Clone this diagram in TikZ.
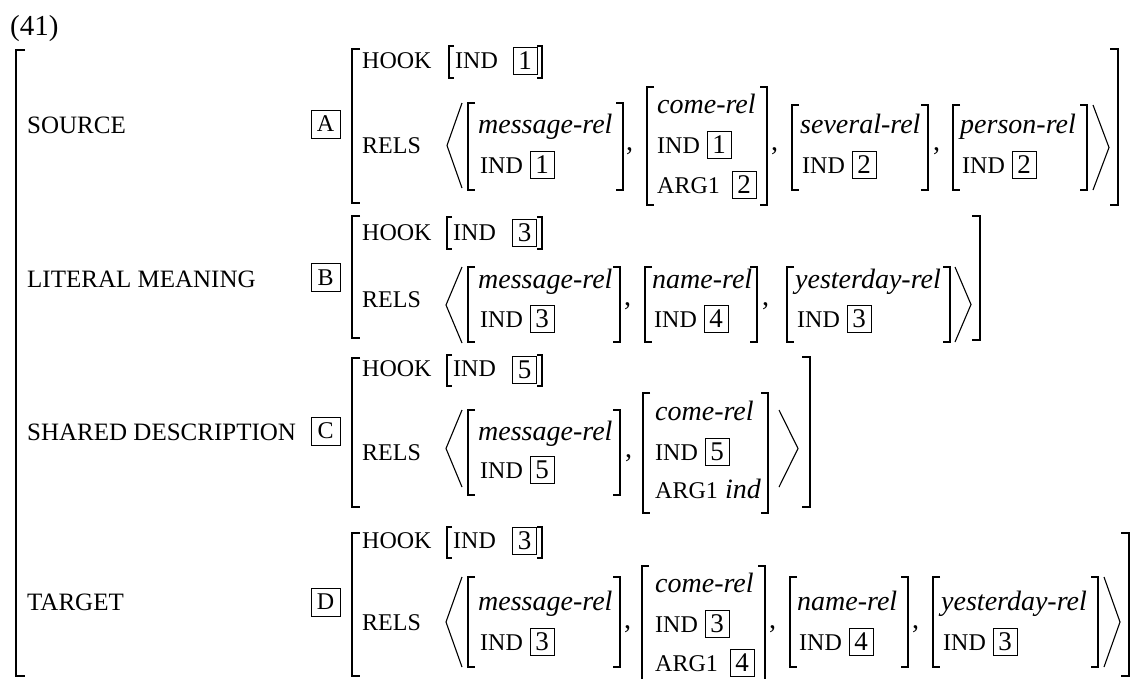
\documentclass[tikz,border=0pt]{standalone}
\usepackage{fontspec}
\setmainfont{Liberation Serif}
\tikzset{
  brk/.style={line width=1.3pt, line cap=butt, line join=miter},
  ang/.style={line width=1.1pt, line join=miter},
  txt/.style={inner sep=0pt, anchor=base west},
  lab/.style={txt, font=\fontsize{25}{28}\selectfont},
  sc/.style={txt, font=\fontsize{24}{28}\selectfont},
  it/.style={txt, font=\fontsize{28}{32}\selectfont\itshape},
  rmt/.style={txt, font=\fontsize{28}{32}\selectfont},
  tagd/.style={draw, line width=0.9pt, inner sep=0pt, minimum width=24pt, minimum height=27pt, font=\fontsize{27}{30}\selectfont},
  tagl/.style={draw, line width=0.9pt, inner sep=0pt, minimum width=29pt, minimum height=28pt, font=\fontsize{24}{28}\selectfont},
}
% left bracket: [tick]{x}{ytop}{ybot}
\newcommand\LBr[4][8]{\draw[brk] (#2+#1,#3) -- (#2,#3) -- (#2,#4) -- (#2+#1,#4);}
\newcommand\RBr[4][8]{\draw[brk] (#2-#1,#3) -- (#2,#3) -- (#2,#4) -- (#2-#1,#4);}
% angle: {apex x}{end x}{ytop}{ybot}
\newcommand\Ang[4]{\draw[ang] (#2,#3) -- (#1,{(#3+#4)/2}) -- (#2,#4);}
\newcommand\IndBox[4]{\node[sc] (#1i) at (#2,#3) {IND}; \node[tagd] (#1b) at (#2+62,#3-8.5) {#4};}
\newcommand\ArgBox[4]{\node[sc] (#1g) at (#2,#3) {ARG1}; \node[tagd] (#1gb) at (#2+87,#3-8) {#4};}
\begin{document}
\begin{tikzpicture}[x=1pt,y=-1pt]
\useasboundingbox (0,0) rectangle (1135,678);
\node[rmt, font=\fontsize{29}{32}\selectfont] (ex) at (10,35) {(41)};
% outer bracket
\draw[brk] (25,50) -- (16,50) -- (16,676) -- (25,676);

% ---------- Row A : SOURCE
\node[lab] (srcL) at (27,133) {SOURCE};
\node[tagl] (tA) at (325.5,124) {A};
\LBr{352}{49}{203} \RBr{1118}{49}{205}
\node[sc] (hookA) at (362,68) {HOOK};
\LBr[5]{449}{46}{78} \node[sc] (hiA) at (455,68) {IND}; \node[tagd] (hbA) at (525,61) {1}; \RBr[5]{542}{46}{78}
\node[sc] (relsA) at (362,153) {RELS};
\Ang{447}{462}{103}{188}
\LBr[7]{468}{103}{190} \node[it] (a1) at (478,133) {message-rel}; \IndBox{a1}{480}{173}{1} \RBr[7]{623}{103}{190}
\node[rmt] (ca1) at (626,150) {,};
\LBr[7]{647}{87}{205} \node[it] (a2) at (657,113) {come-rel}; \IndBox{a2}{657}{153}{1} \ArgBox{a2}{657}{193}{2} \RBr[7]{767}{87}{205}
\node[rmt] (ca2) at (771,150) {,};
\LBr[7]{792}{105}{190} \node[it] (a3) at (800,133) {several-rel}; \IndBox{a3}{802}{173}{2} \RBr[7]{928}{105}{190}
\node[rmt] (ca3) at (933,150) {,};
\LBr[7]{953}{105}{190} \node[it] (a4) at (960,133) {person-rel}; \IndBox{a4}{962}{173}{2} \RBr[7]{1087}{105}{190}
\Ang{1109}{1093}{105}{190}

% ---------- Row B : LITERAL MEANING
\node[lab] (litL) at (27,287) {LITERAL MEANING};
\node[tagl] (tB) at (325.5,277.5) {B};
\LBr{352}{216}{338} \RBr{980}{216}{340}
\node[sc] (hookB) at (362,240) {HOOK};
\LBr[5]{447}{217}{249} \node[sc] (hiB) at (453,240) {IND}; \node[tagd] (hbB) at (524.5,232.5) {3}; \RBr[5]{542}{217}{249}
\node[sc] (relsB) at (362,307) {RELS};
\Ang{446}{462}{267}{343}
\LBr[7]{468}{267}{342} \node[it] (b1) at (478,288) {message-rel}; \IndBox{b1}{480}{327}{3} \RBr[7]{620}{267}{342}
\node[rmt] (cb1) at (624,305) {,};
\LBr[7]{645}{267}{342} \node[it] (b2) at (652,288) {name-rel}; \IndBox{b2}{654}{327}{4} \RBr[7]{757}{267}{342}
\node[rmt] (cb2) at (762,305) {,};
\LBr[7]{787}{267}{342} \node[it] (b3) at (795,288) {yesterday-rel}; \IndBox{b3}{797}{327}{3} \RBr[7]{950}{267}{342}
\Ang{971}{955}{267}{342}

% ---------- Row C : SHARED DESCRIPTION
\node[lab] (shL) at (27,440) {SHARED DESCRIPTION};
\node[tagl] (tC) at (325.5,431) {C};
\LBr{352}{358}{507} \RBr{810}{357}{507}
\node[sc] (hookC) at (362,376) {HOOK};
\LBr[5]{447}{355}{386} \node[sc] (hiC) at (453,376) {IND}; \node[tagd] (hbC) at (524.5,369.5) {5}; \RBr[5]{542}{355}{386}
\node[sc] (relsC) at (362,460) {RELS};
\Ang{446}{462}{410}{487}
\LBr[7]{468}{410}{495} \node[it] (c1) at (478,440) {message-rel}; \IndBox{c1}{480}{478}{5} \RBr[7]{620}{410}{495}
\node[rmt] (cc1) at (625,457) {,};
\LBr[7]{643}{393}{513} \node[it] (c2) at (655,420) {come-rel}; \IndBox{c2}{655}{460}{5}
\node[sc] (c2g) at (655,498) {ARG1}; \node[it] (c2v) at (725,498) {ind}; \RBr[7]{768}{393}{513}
\Ang{798}{779}{410}{487}

% ---------- Row D : TARGET
\node[lab] (tgL) at (27,610) {TARGET};
\node[tagl] (tD) at (325.5,602) {D};
\LBr{352}{533}{676} \RBr{1129}{533}{676}
\node[sc] (hookD) at (362,548) {HOOK};
\LBr[5]{447}{527}{558} \node[sc] (hiD) at (453,548) {IND}; \node[tagd] (hbD) at (524.5,541) {3}; \RBr[5]{542}{527}{558}
\node[sc] (relsD) at (362,630) {RELS};
\Ang{446}{462}{577}{667}
\LBr[7]{468}{577}{667} \node[it] (d1) at (478,610) {message-rel}; \IndBox{d1}{480}{650}{3} \RBr[7]{620}{577}{667}
\node[rmt] (cd1) at (624,628) {,};
\LBr[7]{642}{566}{685} \node[it] (d2) at (655,592) {come-rel}; \IndBox{d2}{655}{632}{3} \ArgBox{d2}{655}{671}{4} \RBr[7]{765}{566}{685}
\node[rmt] (cd2) at (769,628) {,};
\LBr[7]{790}{577}{667} \node[it] (d3) at (797,610) {name-rel}; \IndBox{d3}{799}{650}{4} \RBr[7]{908}{577}{667}
\node[rmt] (cd3) at (912,628) {,};
\LBr[7]{933}{577}{667} \node[it] (d4) at (941,610) {yesterday-rel}; \IndBox{d4}{943}{650}{3} \RBr[7]{1098}{577}{667}
\Ang{1120}{1104}{577}{667}
\end{tikzpicture}
\end{document}
